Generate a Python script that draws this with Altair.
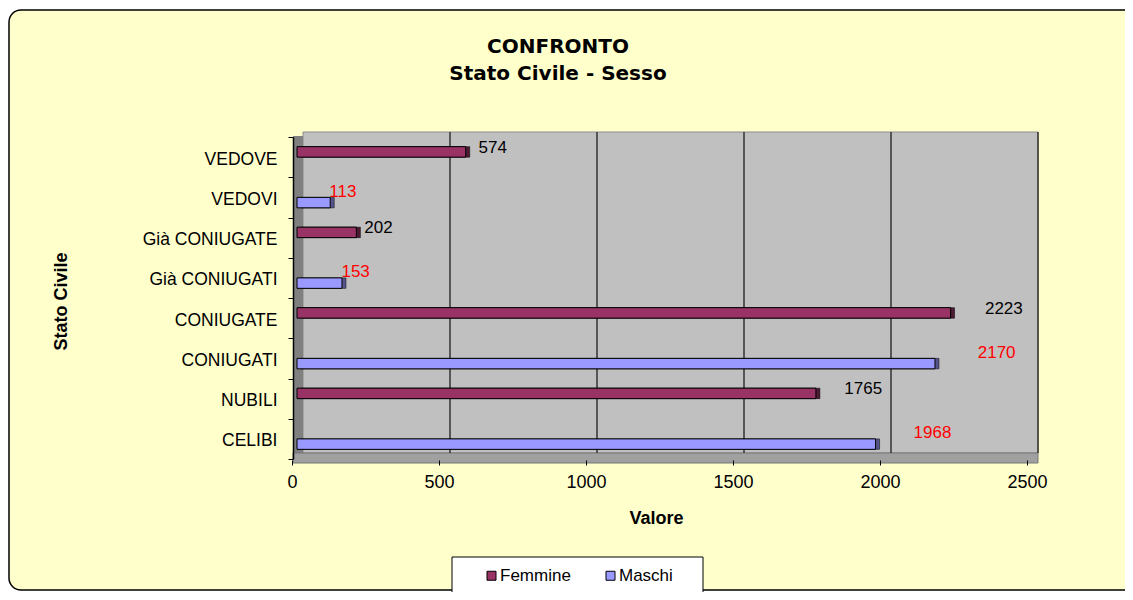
import altair as alt
import pandas as pd

categories = ["VEDOVE", "VEDOVI", "Già CONIUGATE", "Già CONIUGATI",
              "CONIUGATE", "CONIUGATI", "NUBILI", "CELIBI"]
sesso = ["Femmine", "Maschi", "Femmine", "Maschi",
         "Femmine", "Maschi", "Femmine", "Maschi"]
valori = [574, 113, 202, 153, 2223, 2170, 1765, 1968]
series = ["Femmine", "Maschi"]
front_colors = ["#993366", "#9999FF"]
depth_colors = ["#4C1A33", "#55558C"]
grid_ticks = [500, 1000, 1500, 2000, 2500]
axis_ticks = [0, 500, 1000, 1500, 2000, 2500]
title_lines = ["CONFRONTO", "Stato Civile - Sesso"]

df = pd.DataFrame({"Stato": categories, "Sesso": sesso, "Valore": valori})
grid_df = pd.DataFrame({"g": grid_ticks})
one = pd.DataFrame({"k": [0]})

FONT = "Liberation Sans"
W, H = 735, 322
XDOM = [0, 2500]

yenc = alt.Y("Stato:N", sort=categories,
             scale=alt.Scale(paddingInner=0, paddingOuter=0),
             axis=alt.Axis(title="Stato Civile", tickBand="extent", offset=4,
                           tickSize=5, tickColor="black", domainColor="black",
                           domainWidth=1.5, labelFont=FONT, labelFontSize=17.5,
                           labelColor="black", labelPadding=11, labelOffset=2,
                           titleFont=FONT, titleFontSize=18, titleFontWeight="bold",
                           titleColor="black", titleAngle=-90, titleX=-227,
                           titleY=164, titleAlign="center",
                           titleBaseline="alphabetic", grid=False, zindex=1))
yoff = alt.YOffset("Sesso:N", sort=series,
                   scale=alt.Scale(domain=series, paddingInner=0, paddingOuter=0.92))


def deco(x, x2, y, y2, **kw):
    return alt.Chart(one).mark_rect(**kw).encode(
        x=alt.value(x), x2=alt.value(x2), y=alt.value(y), y2=alt.value(y2))


def label(text, x, y, **kw):
    return alt.Chart(one).mark_text(**kw).encode(
        x=alt.value(x), y=alt.value(y), text=alt.value(text))


border = deco(-288, 860, -127, 453, fill="#FFFFCC", stroke="black",
              strokeWidth=1.5, cornerRadius=12)
wall = deco(6, 741, -5, 316, fill="#C0C0C0", stroke="#8C8C8C", strokeWidth=1)
side = deco(-4, 6, -1, 325, fill="#808080")
floor = deco(-4, 741, 316, 326, fill="#A0A0A0", stroke="#777777", strokeWidth=1)

tkw = dict(font="DejaVu Sans", fontSize=20, fontWeight="bold", color="black",
           align="center", baseline="alphabetic")
title1 = label(title_lines[0], 261, -84, **tkw)
title2 = label(title_lines[1], 261, -57, **tkw)

grid = alt.Chart(grid_df).mark_rule(xOffset=6, color="#333333", strokeWidth=1.5).encode(
    x=alt.X("g:Q", scale=alt.Scale(domain=XDOM), axis=None),
    y=alt.value(-5), y2=alt.value(316))


def depth_layer(s, col):
    return alt.Chart(df).transform_filter(alt.datum.Sesso == s).mark_bar(
        xOffset=4, yOffset=-4, stroke="black", strokeWidth=0.5, fill=col).encode(
        x=alt.X("Valore:Q", scale=alt.Scale(domain=XDOM), axis=None),
        y=yenc, yOffset=yoff)


depth_f = depth_layer(series[0], depth_colors[0])
depth_m = depth_layer(series[1], depth_colors[1])

bars = alt.Chart(df).mark_bar(stroke="black", strokeWidth=1).encode(
    x=alt.X("Valore:Q", scale=alt.Scale(domain=XDOM),
            axis=alt.Axis(title="Valore", values=axis_ticks, format="d",
                          labelFlush=False, labelOverlap=False,
                          domain=False, grid=False, tickOffset=-5, offset=1,
                          tickSize=5, tickColor="black", labelFont=FONT,
                          labelFontSize=18, labelColor="black", labelPadding=8,
                          titleFont=FONT, titleFontSize=18, titleFontWeight="bold",
                          titleColor="black", titleX=359, titleY=63,
                          titleBaseline="alphabetic", zindex=1)),
    y=yenc, yOffset=yoff,
    color=alt.Color("Sesso:N", scale=alt.Scale(domain=series, range=front_colors),
                    legend=alt.Legend(title=None, orient="none", legendX=186,
                                      legendY=430, direction="horizontal",
                                      symbolType="square", symbolSize=81,
                                      symbolStrokeColor="black",
                                      symbolStrokeWidth=1, labelFont=FONT,
                                      labelFontSize=17, labelColor="black",
                                      labelOffset=0, columnPadding=31,
                                      padding=0, zindex=1)))

legend_box = deco(155, 406, 420, 456, fill="white", stroke="black", strokeWidth=1)

txt_f = alt.Chart(df).transform_filter(alt.datum.Sesso == "Femmine").mark_text(
    align="left", baseline="middle", dy=-4, font=FONT, fontSize=17,
    color="black").encode(
    x=alt.X("Valore:Q", scale=alt.Scale(domain=XDOM, range=[5.3, 773]), axis=None),
    y=yenc, yOffset=yoff, text="Valore:Q")

txt_m = alt.Chart(df).transform_filter(alt.datum.Sesso == "Maschi").mark_text(
    align="center", baseline="middle", dy=-11, font=FONT, fontSize=17,
    color="#FF0000").encode(
    x=alt.X("Valore:Q", scale=alt.Scale(domain=XDOM, range=[10, 804.5]), axis=None),
    y=yenc, yOffset=yoff, text="Valore:Q")

chart = alt.layer(
    border, legend_box, title1, title2, wall, side, floor, grid,
    depth_f, depth_m, bars, txt_f, txt_m
).resolve_scale(x="independent").properties(
    width=W, height=H,
    autosize=alt.AutoSizeParams(type="none"),
    padding={"left": 289, "top": 129, "right": 93, "bottom": 133},
).configure(background="white").configure_view(strokeWidth=0)

chart.save("out.html", embed_options={"renderer": "svg", "actions": False})
